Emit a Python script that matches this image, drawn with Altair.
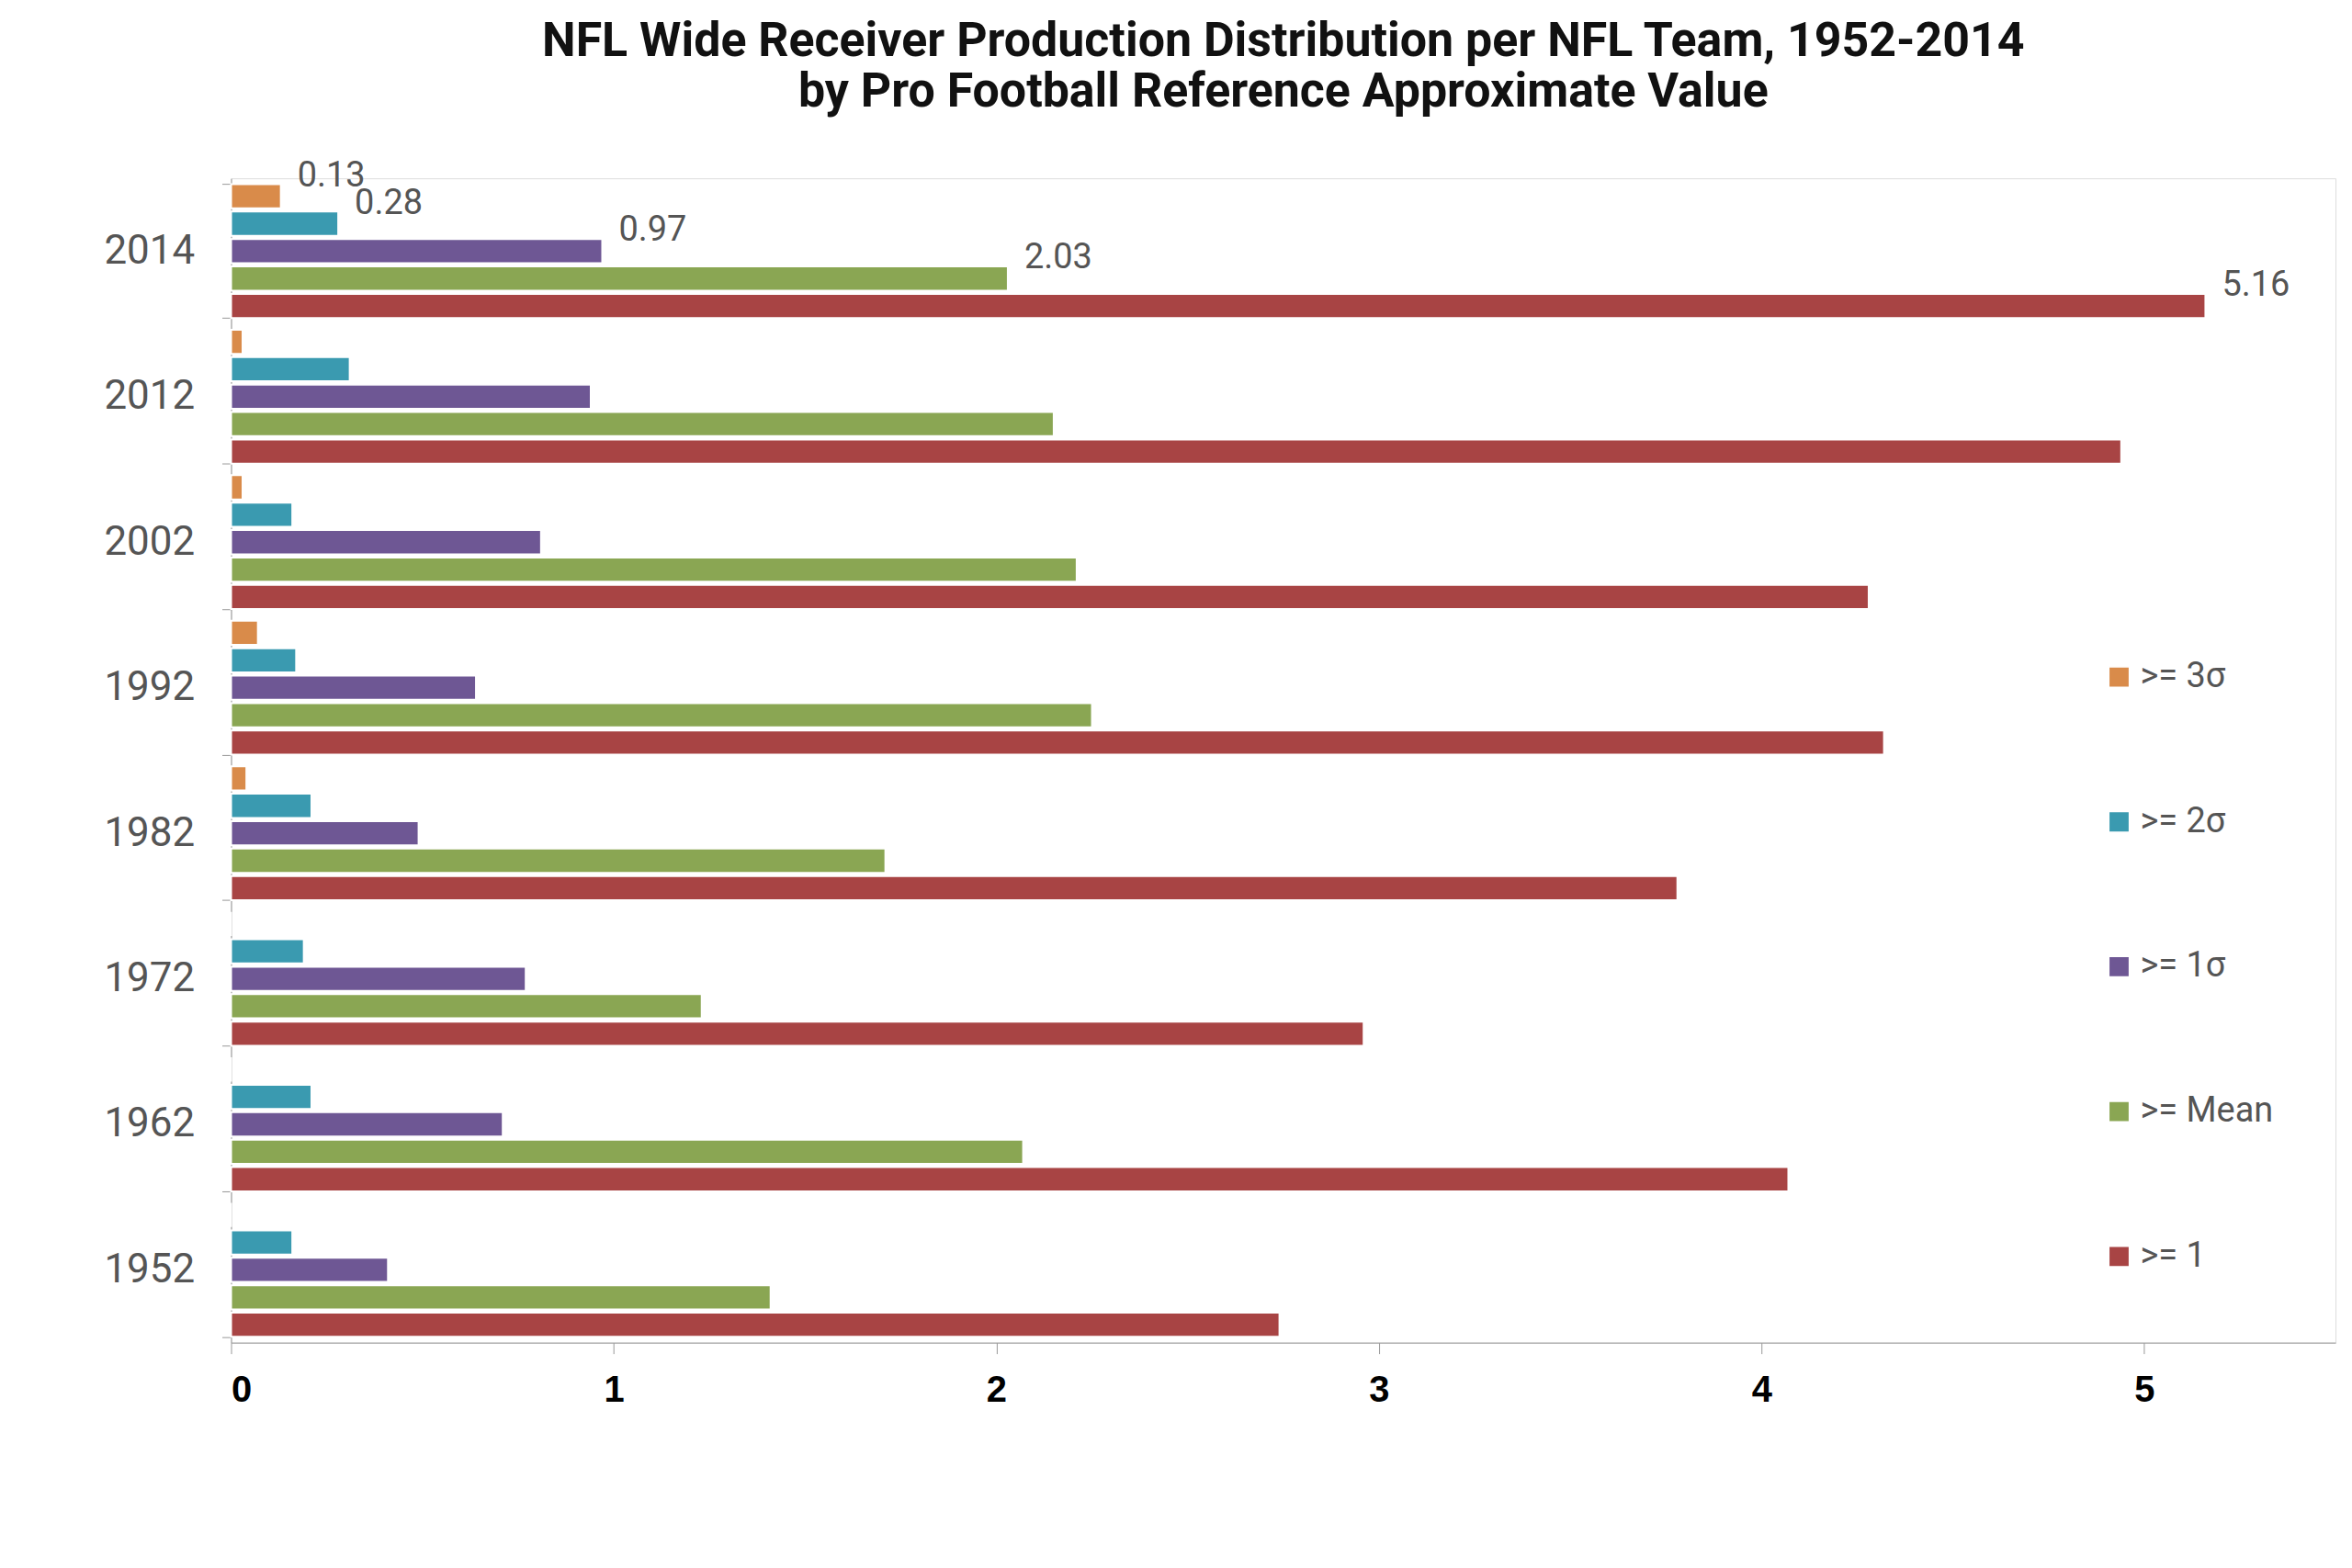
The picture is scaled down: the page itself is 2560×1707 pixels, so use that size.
import altair as alt
import pandas as pd

years = ["2014", "2012", "2002", "1992", "1982", "1972", "1962", "1952"]
series = [">= 3σ", ">= 2σ", ">= 1σ", ">= Mean", ">= 1"]
colors = ["#d98b4a", "#3a9ab0", "#6e5794", "#8aa653", "#a84444"]

sigma3 = [0.13, 0.03, 0.03, 0.07, 0.04, 0.0, 0.0, 0.0]
sigma2 = [0.28, 0.31, 0.16, 0.17, 0.21, 0.19, 0.21, 0.16]
sigma1 = [0.97, 0.94, 0.81, 0.64, 0.49, 0.77, 0.71, 0.41]
mean = [2.03, 2.15, 2.21, 2.25, 1.71, 1.23, 2.07, 1.41]
ge1 = [5.16, 4.94, 4.28, 4.32, 3.78, 2.96, 4.07, 2.74]

rows = []
for vals, s in zip([sigma3, sigma2, sigma1, mean, ge1], series):
    for y, v in zip(years, vals):
        rows.append({"year": y, "series": s, "value": v})
df = pd.DataFrame(rows)
lab = df[df.year == "2014"].copy()
lab["text"] = lab["value"].map(lambda v: f"{v:.2f}")

FONT = "Roboto"

yenc = alt.Y("year:N", sort=years, title=None,
             scale=alt.Scale(paddingInner=0.08, paddingOuter=0.04),
             axis=alt.Axis(labelFontSize=44, labelColor="#555", labelFont=FONT,
                           tickBand="extent", tickColor="#999", tickSize=10, domainColor="#999",
                           labelPadding=30))
yoff = alt.YOffset("series:N", sort=series, scale=alt.Scale(paddingInner=0.12))

bars = alt.Chart(df).mark_bar(stroke="white", strokeWidth=2).encode(
    x=alt.X("value:Q", title=None, scale=alt.Scale(domain=[0, 5.5]),
            axis=alt.Axis(values=[0, 1, 2, 3, 4, 5], format="d", labelFontSize=40,
                          labelFontWeight="bold", labelColor="black", grid=False,
                          tickColor="#999", tickSize=12, domainColor="#999", labelPadding=20)),
    y=yenc, yOffset=yoff,
    color=alt.Color("series:N", sort=series, scale=alt.Scale(domain=series, range=colors),
                    legend=alt.Legend(title=None, orient="none", legendX=2040, legendY=525,
                                      symbolType="square", symbolSize=500, labelFontSize=38,
                                      labelColor="#555", rowPadding=120, labelFont=FONT,
                                      direction="vertical")),
)

text = alt.Chart(lab).mark_text(align="left", dx=18, dy=-22, fontSize=38, color="#555",
                                font=FONT).encode(
    x="value:Q", y=yenc, yOffset=yoff, text="text:N")

chart = (bars + text).properties(
    width=2295, height=1270,
    padding={"left": 105, "top": 10, "right": 10, "bottom": 10},
    title=alt.Title("NFL Wide Receiver Production Distribution per NFL Team, 1952-2014",
                    subtitle="by Pro Football Reference Approximate Value",
                    fontSize=52, subtitleFontSize=52, font=FONT,
                    subtitleFont=FONT, fontWeight="bold",
                    subtitleFontWeight="bold", color="#111", subtitleColor="#111",
                    anchor="middle", offset=45),
).configure_view(stroke=None).configure(background="white")

chart.save("out.html", embed_options={"renderer": "svg", "actions": False})
